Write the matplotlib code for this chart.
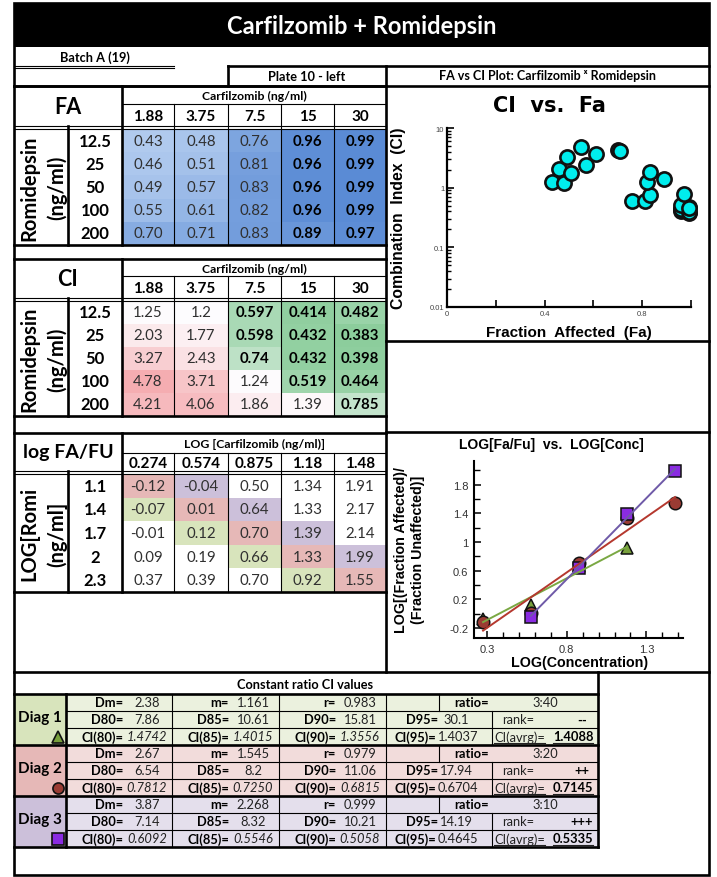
import numpy as np
import matplotlib.pyplot as plt
from matplotlib.patches import Rectangle
from matplotlib.colors import LinearSegmentedColormap, Normalize, TwoSlopeNorm
from matplotlib.ticker import LogLocator, NullFormatter, MultipleLocator

W, H = 717, 878

# ---- data ----
carf_conc = [1.88, 3.75, 7.5, 15, 30]
romi_conc = [12.5, 25, 50, 100, 200]
fa_vals = np.array([
    [0.43, 0.48, 0.76, 0.96, 0.99],
    [0.46, 0.51, 0.81, 0.96, 0.99],
    [0.49, 0.57, 0.83, 0.96, 0.99],
    [0.55, 0.61, 0.82, 0.96, 0.99],
    [0.70, 0.71, 0.83, 0.89, 0.97],
])
ci_vals = np.array([
    [1.25, 1.2, 0.597, 0.414, 0.482],
    [2.03, 1.77, 0.598, 0.432, 0.383],
    [3.27, 2.43, 0.74, 0.432, 0.398],
    [4.78, 3.71, 1.24, 0.519, 0.464],
    [4.21, 4.06, 1.86, 1.39, 0.785],
])
log_carf = [0.274, 0.574, 0.875, 1.18, 1.48]
log_romi = [1.1, 1.4, 1.7, 2, 2.3]
log_fafu = np.array([
    [-0.12, -0.04, 0.50, 1.34, 1.91],
    [-0.07, 0.01, 0.64, 1.33, 2.17],
    [-0.01, 0.12, 0.70, 1.39, 2.14],
    [0.09, 0.19, 0.66, 1.33, 1.99],
    [0.37, 0.39, 0.70, 0.92, 1.55],
])

diag_names = ['Diag 1', 'Diag 2', 'Diag 3']
diag_shift = [-1, 0, 1]          # column index minus row index
diag_ratio = ['3:40', '3:20', '3:10']
diag_rank = ['--', '++', '+++']
dm = [2.38, 2.67, 3.87]
m_slope = [1.161, 1.545, 2.268]
r_val = [0.983, 0.979, 0.999]
d80 = [7.86, 6.54, 7.14]
d85 = [10.61, 8.2, 8.32]
d90 = [15.81, 11.06, 10.21]
d95 = [30.1, 17.94, 14.19]
ci80 = [1.4742, 0.7812, 0.6092]
ci85 = [1.4015, 0.7250, 0.5546]
ci90 = [1.3556, 0.6815, 0.5058]
ci95 = [1.4037, 0.6704, 0.4645]
ci_avg = [1.4088, 0.7145, 0.5335]

# ---- styles ----
diag_marker = ['^', 'o', 's']
diag_fill = ['#78a03c', '#9a3b33', '#8a2be2']
diag_line = ['#7aa843', '#b5382e', '#6f5aa8']
diag_cell = ['#d8e4bc', '#e6b8b7', '#ccc0da']
diag_row = ['#ebf1de', '#f2dcdb', '#e4dfec']

FT = ['Lato', 'DejaVu Sans']
CH = ['Liberation Sans', 'DejaVu Sans']
THK, THN = 1.9, 0.8
L, R = 14, 709
COLS = [122, 174, 228, 281, 334, 386]

fig = plt.figure(figsize=(W / 100, H / 100), dpi=100)
bg = fig.add_axes([0, 0, 1, 1])
bg.set_xlim(0, W)
bg.set_ylim(H, 0)
bg.axis('off')


def fig_rect(x0, y0, x1, y1):
    return [x0 / W, 1 - y1 / H, (x1 - x0) / W, (y1 - y0) / H]


def box(x0, y0, x1, y1, fc):
    bg.add_patch(Rectangle((x0, y0), x1 - x0, y1 - y0, facecolor=fc, edgecolor='none', zorder=1))


def hl(y, x0, x1, lw=THN):
    bg.plot([x0, x1], [y, y], color='k', lw=lw, solid_capstyle='projecting', zorder=4)


def vl(x, y0, y1, lw=THN):
    bg.plot([x, x], [y0, y1], color='k', lw=lw, solid_capstyle='projecting', zorder=4)


def T(x, y, s, size, weight='normal', ha='center', color='k', style='normal', rot=0, family=FT):
    return bg.text(x, y, s, fontsize=size, fontweight=weight, ha=ha, va='center', color=color,
                   fontstyle=style, rotation=rot, family=family, zorder=5)


# ---- title and top rows ----
box(L, 4, R, 48, 'black')
T((L + R) / 2, 26, 'Carfilzomib + Romidepsin', 17, 'bold', color='white')
T(95, 58, 'Batch A (19)', 9.2, 'bold')
hl(66.5, L, 174)
hl(69, L, 174)
hl(66.5, 228, R, THK)
vl(228, 66.5, 87, THK)
T(307, 77, 'Plate 10 - left', 9.2, 'bold')
T((386 + R) / 2, 76, 'FA vs CI Plot: Carfilzomib ˣ Romidepsin', 9, 'bold')
hl(87, L, R, THK)


def draw_table(top, mid, hb, bot, corner, corner_size, head, col_txt, row_txt, side,
               cell_txt, cell_fc, cell_bold):
    T((L + 122) / 2, (top + hb) / 2, corner, corner_size, 'bold')
    T((122 + 386) / 2, (top + mid) / 2 + 0.5, head, 8.8, 'bold')
    for j in range(5):
        T((COLS[j] + COLS[j + 1]) / 2, (mid + hb) / 2 + 1, col_txt[j], 11, 'bold')
    y0 = hb + 3
    rh = (bot - y0) / 5
    for i in range(5):
        cy = y0 + rh * (i + 0.5)
        T(95, cy, row_txt[i], 12, 'bold')
        for j in range(5):
            if cell_fc[i][j] is not None:
                box(COLS[j], y0 + rh * i, COLS[j + 1], y0 + rh * (i + 1), cell_fc[i][j])
            b = cell_bold[i][j]
            T((COLS[j] + COLS[j + 1]) / 2, cy, cell_txt[i][j], 10.8,
              'bold' if b else 'normal', color='k' if b else '#303030')
    T(29, (y0 + bot) / 2, side[0], 14.5, 'bold', rot=90)
    T(57, (y0 + bot) / 2, side[1], 14.5, 'bold', rot=90)
    hl(top, L, 386, THK)
    hl(mid, 122, 386)
    hl(hb, L, 386)
    hl(hb + 2.5, L, 386)
    hl(bot, L, 386, THK)
    vl(122, top, bot, THK)
    vl(68, hb, bot, THK)
    for x in COLS[1:-1]:
        vl(x, mid, bot)


# FA table
fa_cmap = LinearSegmentedColormap.from_list('fa', ['#b0caee', '#5a8bd5'])
fa_norm = Normalize(fa_vals.min(), fa_vals.max())
draw_table(87, 105, 127, 246, 'FA', 15.5, 'Carfilzomib (ng/ml)',
           [f'{c:g}' for c in carf_conc], [f'{r:g}' for r in romi_conc],
           ['Romidepsin', '(ng/ml)'],
           [[f'{v:.2f}' for v in row] for row in fa_vals],
           [[fa_cmap(fa_norm(v)) for v in row] for row in fa_vals],
           fa_vals > 0.85)

# CI table
ci_cmap = LinearSegmentedColormap.from_list('ci', ['#8ccd9c', '#fdfcfe', '#f5adb1'])
ci_norm = TwoSlopeNorm(vmin=ci_vals.min(), vcenter=np.median(ci_vals), vmax=ci_vals.max())
draw_table(260, 277, 299, 417, 'CI', 15.5, 'Carfilzomib (ng/ml)',
           [f'{c:g}' for c in carf_conc], [f'{r:g}' for r in romi_conc],
           ['Romidepsin', '(ng/ml)'],
           [[f'{v:.3g}' for v in row] for row in ci_vals],
           [[ci_cmap(ci_norm(v)) for v in row] for row in ci_vals],
           ci_vals < 1)

# log table, coloured by diagonal
log_fc = [[None] * 5 for _ in range(5)]
for d, k in enumerate(diag_shift):
    for i in range(5):
        j = i + k
        if 0 <= j < 5:
            log_fc[i][j] = diag_cell[d]
draw_table(434, 454, 472, 593, 'log FA/FU', 14, 'LOG [Carfilzomib (ng/ml)]',
           [f'{c:g}' for c in log_carf], [f'{r:g}' for r in log_romi],
           ['LOG[Romi', '(ng/ml]'],
           [[f'{v:.2f}' for v in row] for row in log_fafu],
           log_fc, np.zeros((5, 5), bool))

# ---- right column boxes ----
vl(386, 66.5, 673, THK)
hl(342, 386, R, THK)
hl(433, 386, R, THK)
hl(673, L, R, THK)

# CI vs Fa chart
ax1 = fig.add_axes(fig_rect(447, 129, 691, 308))
ax1.scatter(fa_vals.ravel(), ci_vals.ravel(), s=105, c='#00eded', edgecolors='#111111',
            linewidths=1.9, zorder=3, clip_on=False)
ax1.set_yscale('log')
ax1.set_xlim(0, 1.0)
ax1.set_ylim(0.01, 10)
ax1.set_xticks([0, 0.2, 0.4, 0.6, 0.8, 1.0])
ax1.set_xticklabels(['0', '', '0.4', '', '0.8', ''])
ax1.set_yticks([0.01, 0.1, 1, 10])
ax1.set_yticklabels(['0.01', '0.1', '1', '10'])
ax1.yaxis.set_minor_locator(LogLocator(base=10, subs=np.arange(2, 10)))
ax1.yaxis.set_minor_formatter(NullFormatter())
ax1.tick_params(which='both', direction='in', labelsize=5.5, labelcolor='#444444', pad=2)
ax1.tick_params(which='major', length=5, width=1.2)
ax1.tick_params(which='minor', length=3, width=1)
for s in ['top', 'right']:
    ax1.spines[s].set_visible(False)
for s in ['left', 'bottom']:
    ax1.spines[s].set_linewidth(1.6)
for lab in ax1.get_xticklabels() + ax1.get_yticklabels():
    lab.set_family(CH)
T(549, 106, 'CI  vs.  Fa', 15, 'bold', family=['DejaVu Sans'])
T(398, 218, 'Combination  Index  (CI)', 11.3, 'bold', rot=90, family=CH)
T(569, 333, 'Fraction  Affected  (Fa)', 11, 'bold', family=CH)

# median-effect chart
ax2 = fig.add_axes(fig_rect(474, 462, 683, 639))
for d, k in enumerate(diag_shift):
    rows = [i for i in range(5) if 0 <= i + k < 5]
    xs = np.array([log_carf[i + k] for i in rows])
    ys = np.array([log_fafu[i, i + k] for i in rows])
    ax2.plot(xs, ys, ls='none', marker=diag_marker[d], ms=9, mfc=diag_fill[d], mec='#111111',
             mew=1.1, zorder=3 + d, clip_on=False)
    fit = np.polyfit(xs, ys, 1)
    ends = np.array([xs[0], xs[-1]])
    ax2.plot(ends, np.polyval(fit, ends), color=diag_line[d], lw=1.4, zorder=7)
ax2.set_xlim(0.217, 1.53)
ax2.set_ylim(-0.34, 2.13)
ax2.set_xticks([0.3, 0.8, 1.3])
ax2.set_xticklabels(['0.3', '0.8', '1.3'])
ax2.xaxis.set_minor_locator(MultipleLocator(0.1))
ax2.set_yticks([-0.2, 0.2, 0.6, 1, 1.4, 1.8])
ax2.set_yticklabels(['-0.2', '0.2', '0.6', '1', '1.4', '1.8'])
ax2.yaxis.set_minor_locator(MultipleLocator(0.2))
ax2.tick_params(which='both', direction='in', labelsize=8, labelcolor='#333333', pad=4)
ax2.tick_params(which='major', length=5, width=1.1)
ax2.tick_params(which='minor', length=4, width=1)
for s in ['top', 'right']:
    ax2.spines[s].set_visible(False)
for s in ['left', 'bottom']:
    ax2.spines[s].set_linewidth(1.5)
for lab in ax2.get_xticklabels() + ax2.get_yticklabels():
    lab.set_family(CH)
T(551, 445, 'LOG[Fa/Fu]  vs.  LOG[Conc]', 10, 'bold', family=CH)
T(401, 550, 'LOG[(Fraction Affected)/', 10.3, 'bold', rot=90, family=CH)
T(418, 550, '(Fraction Unaffected)]', 10.3, 'bold', rot=90, family=CH)
T(580, 663, 'LOG(Concentration)', 10.3, 'bold', family=CH)

# ---- constant ratio table ----
T(305, 685, 'Constant ratio CI values', 9.2, 'bold')
hl(695, L, 598, THK)
RH = 17
underline = []
for d in range(3):
    top = 695 + 3 * RH * d
    box(L, top, 66, top + 3 * RH, diag_cell[d])
    box(66, top, 598, top + 3 * RH, diag_row[d])
    T(40, top + 1.5 * RH - 2, diag_names[d], 11, 'bold')
    bg.plot([58], [top + 2.5 * RH + 0.5], marker=diag_marker[d], ms=8, mfc=diag_fill[d],
            mec='#111111', mew=1.2, zorder=6)
    rows = [
        [('Dm=', f'{dm[d]:g}', 'normal'), ('m=', f'{m_slope[d]:g}', 'normal'),
         ('r=', f'{r_val[d]:g}', 'normal')],
        [('D80=', f'{d80[d]:g}', 'normal'), ('D85=', f'{d85[d]:g}', 'normal'),
         ('D90=', f'{d90[d]:g}', 'normal')],
        [('CI(80)=', f'{ci80[d]:.4f}', 'italic'), ('CI(85)=', f'{ci85[d]:.4f}', 'italic'),
         ('CI(90)=', f'{ci90[d]:.4f}', 'italic')],
    ]
    for r, cells in enumerate(rows):
        cy = top + RH * (r + 0.5)
        for c, (lab, val, sty) in enumerate(cells):
            x0 = [66, 172, 279][c]
            T(x0 + 57, cy, lab, 9.3, 'bold', ha='right')
            T(x0 + 81, cy, val, 9.3, color='#222222', style=sty)
    # ratio row
    cy = top + RH * 0.5
    T(489, cy, 'ratio=', 9.3, 'bold', ha='right')
    T(545, cy, diag_ratio[d], 9.3, color='#222222')
    # D95 / rank row
    cy = top + RH * 1.5
    T(438, cy, 'D95=', 9.3, 'bold', ha='right')
    T(456, cy, f'{d95[d]:g}', 9.3, color='#222222')
    T(502, cy, 'rank=', 9.3, color='#222222', ha='left')
    T(582, cy, diag_rank[d], 9.3, 'bold')
    # CI95 / average row
    cy = top + RH * 2.5
    T(436, cy, 'CI(95)=', 9.3, 'bold', ha='right')
    T(458, cy, f'{ci95[d]:.4f}', 9.3, color='#222222')
    underline.append(T(494, cy, 'CI(avrg)=', 9.3, color='#222222', ha='left'))
    underline.append(T(573, cy, f'{ci_avg[d]:.4f}', 9.3, 'bold'))
    # grid lines
    for r in range(1, 3):
        hl(top + RH * r, 66, 598)
    hl(top + 3 * RH, L, 598, THK)
    for x in [172, 279, 386]:
        vl(x, top, top + 3 * RH)
    vl(439, top, top + RH)
    vl(492, top + RH, top + 3 * RH)
vl(66, 695, 695 + 9 * RH, THK)
vl(598, 673, 695 + 9 * RH, THK)

# outer frame
bg.add_patch(Rectangle((L, 4), R - L, 872, facecolor='none', edgecolor='k', lw=THK, zorder=8))

# underline the average cells
fig.canvas.draw()
for t in underline:
    bb = t.get_window_extent()
    y = H - bb.y0 + 0.5
    bg.plot([bb.x0, bb.x1], [y, y], color='#222222', lw=0.8, zorder=6)

fig.savefig('out.png', dpi=100)
